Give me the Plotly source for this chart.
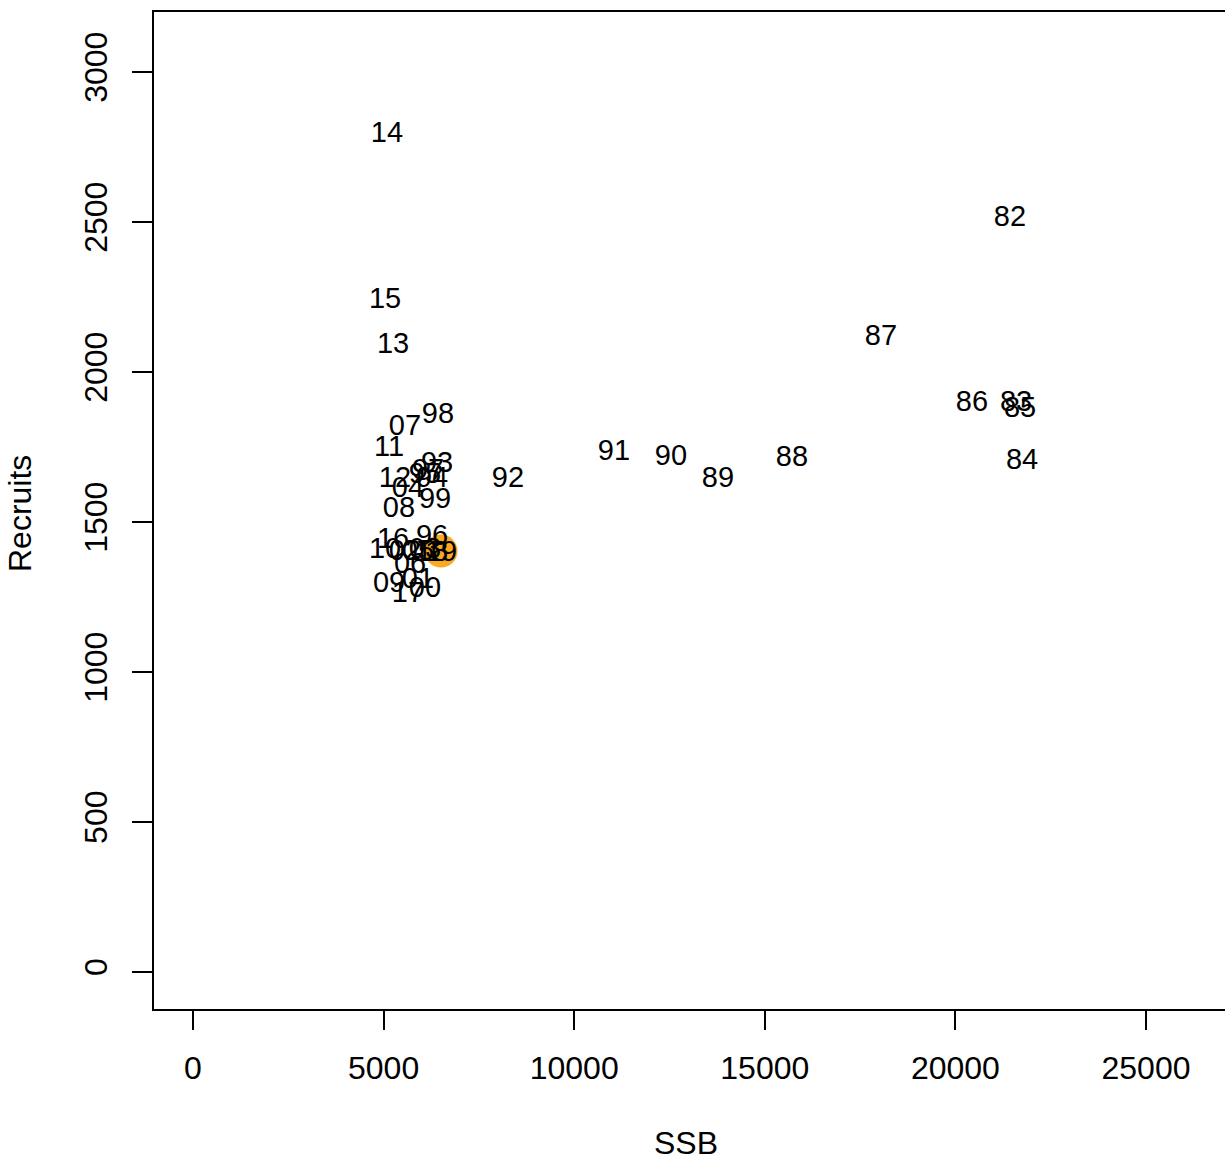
import plotly.graph_objects as go

years = ["82","83","84","85","86","87","88","89","90","91","92","93","94","95","96","97","98","99",
         "00","01","02","03","04","05","06","07","08","09","10","11","12","13","14","15","16","17","18","19"]
ssb = [21432,21590,21747,21695,20435,18048,15713,13772,12539,11044,8263,6401,6270,6086,6270,6165,6427,6349,
       6086,5902,5561,6086,5640,5902,5693,5561,5404,5142,5037,5142,5299,5247,5089,5037,5247,5640,6270,6506]
rec = [2520,1903,1710,1883,1903,2123,1720,1650,1723,1740,1650,1700,1650,1663,1457,1677,1863,1580,
       1283,1313,1407,1413,1617,1407,1363,1823,1550,1300,1413,1753,1650,2097,2800,2247,1447,1267,1403,1403]

x_ticks = [0, 5000, 10000, 15000, 20000, 25000]
y_ticks = [0, 500, 1000, 1500, 2000, 2500, 3000]

FONT = "Liberation Sans, Arial, Helvetica, sans-serif"
LABEL_DY = -10  # small shift so that the text's visual centre sits on the point

fig = go.Figure()
fig.add_trace(go.Scatter(x=[ssb[-1]], y=[rec[-1]], mode="markers",
                         marker=dict(size=33, color="#FBA823", line=dict(width=0)),
                         hoverinfo="skip", showlegend=False))
fig.add_trace(go.Scatter(x=ssb, y=[r + LABEL_DY for r in rec], mode="text", text=years,
                         textposition="middle center",
                         textfont=dict(family=FONT, size=29, color="black"), showlegend=False))

fig.update_layout(
    width=1225, height=1163,
    margin=dict(l=154, r=0, t=12, b=154),
    paper_bgcolor="white", plot_bgcolor="white",
    font=dict(family=FONT, size=32, color="black"),
    xaxis=dict(range=[-1023, 27072], tickvals=x_ticks, ticktext=[str(v) for v in x_ticks],
               showgrid=False, zeroline=False, showline=True, linecolor="black", linewidth=2,
               mirror=True, ticks="outside", ticklen=19, tickwidth=1.5, tickcolor="black",
               ticklabelstandoff=11, tickfont=dict(family=FONT, size=32)),
    yaxis=dict(range=[-123.3, 3200], tickvals=y_ticks, ticktext=[str(v) for v in y_ticks],
               showgrid=False, zeroline=False, showline=True, linecolor="black", linewidth=2,
               ticks="outside", ticklen=20, tickwidth=1.5, tickcolor="black", tickangle=-90,
               ticklabelstandoff=12, tickfont=dict(family=FONT, size=32)),
    annotations=[
        dict(text="SSB", xref="paper", xanchor="center", yref="paper", yanchor="middle",
             x=(686-154)/1071, y=-(1143-1009)/997, showarrow=False,
             font=dict(family=FONT, size=32)),
        dict(text="Recruits", xref="paper", xanchor="center", yref="paper", yanchor="middle",
             x=-(154-20)/1071, y=(1009-514)/997, textangle=-90, showarrow=False,
             font=dict(family=FONT, size=32)),
    ],
)

fig.write_html("out.html", config={"displayModeBar": False},
               post_script="document.body.style.margin='0';document.body.style.overflow='hidden';")
